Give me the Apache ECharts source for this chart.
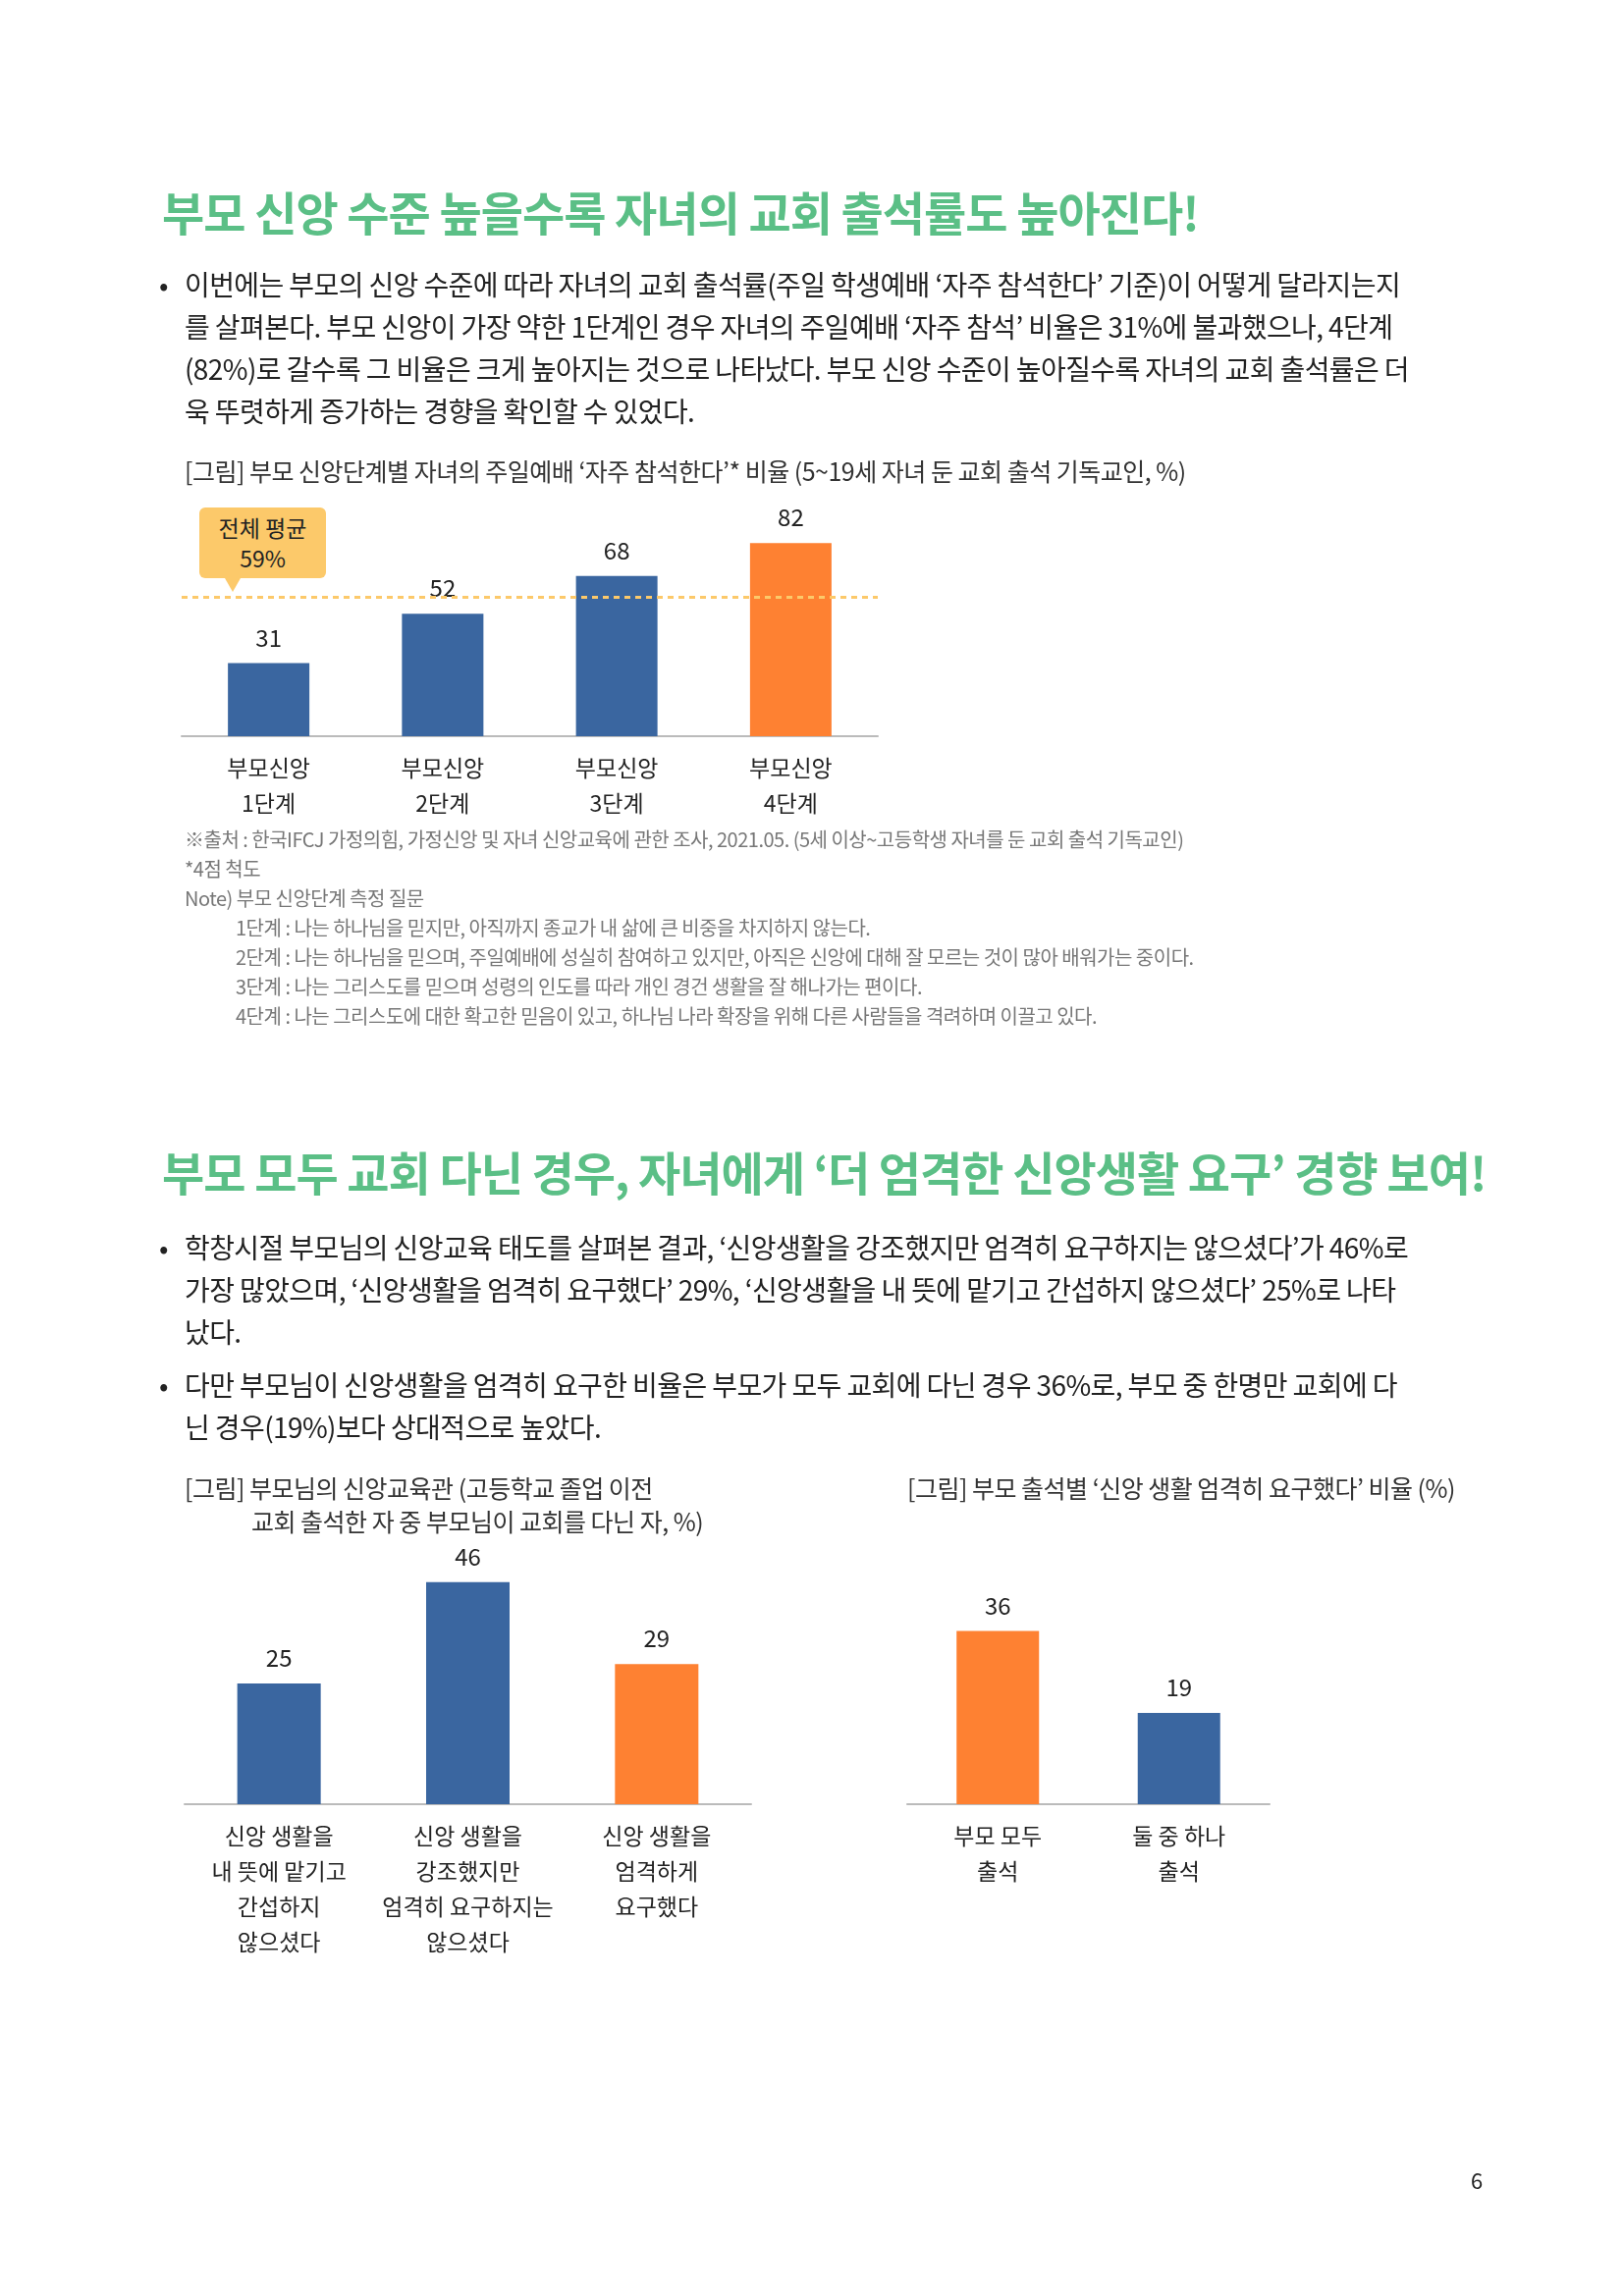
<!DOCTYPE html>
<html><head><meta charset="utf-8">
<script src="https://cdn.jsdelivr.net/npm/echarts@6/dist/echarts.min.js"></script>
<style>
body{margin:0;background:#fff;font-family:"Noto Sans CJK KR","Noto Sans",sans-serif;}
#page{position:relative;width:1653px;height:2339px;overflow:hidden;}
#chart{position:absolute;left:0;top:0;width:1653px;height:2339px;}
.t{position:absolute;white-space:nowrap;color:#222;}
.h{font-size:47px;font-weight:700;color:#5bbf86;letter-spacing:-1px;}
.p{font-size:28px;line-height:43px;letter-spacing:-0.6px;}
.cap{font-size:25px;color:#333;letter-spacing:-0.5px;line-height:35px;}
.n{font-size:20px;color:#777;line-height:30px;letter-spacing:-0.5px;}
.dot{position:absolute;left:-26px;}
#callout{position:absolute;left:203px;top:517px;width:129px;height:72px;background:#fcc96a;border-radius:6px;text-align:center;font-size:23px;line-height:31px;padding-top:5px;box-sizing:border-box;color:#222;}
#callout:after{content:"";position:absolute;left:26px;top:72px;border-left:8px solid transparent;border-right:8px solid transparent;border-top:14px solid #fcc96a;}
</style></head><body>
<div id="page">
<div id="chart"></div>
<div class="t h" style="left:165px;top:180px;">부모 신앙 수준 높을수록 자녀의 교회 출석률도 높아진다!</div>
<div class="t p" style="left:188px;top:268px;"><span class="dot">•</span>이번에는 부모의 신앙 수준에 따라 자녀의 교회 출석률(주일 학생예배 ‘자주 참석한다’ 기준)이 어떻게 달라지는지<br>를 살펴본다. 부모 신앙이 가장 약한 1단계인 경우 자녀의 주일예배 ‘자주 참석’ 비율은 31%에 불과했으나, 4단계<br>(82%)로 갈수록 그 비율은 크게 높아지는 것으로 나타났다. 부모 신앙 수준이 높아질수록 자녀의 교회 출석률은 더<br>욱 뚜렷하게 증가하는 경향을 확인할 수 있었다.</div>
<div class="t cap" style="left:188px;top:462px;">[그림] 부모 신앙단계별 자녀의 주일예배 ‘자주 참석한다’* 비율 (5~19세 자녀 둔 교회 출석 기독교인, %)</div>
<div id="callout">전체 평균<br>59%</div>
<div class="t n" style="left:188px;top:840px;">※출처 : 한국IFCJ 가정의힘, 가정신앙 및 자녀 신앙교육에 관한 조사, 2021.05. (5세 이상~고등학생 자녀를 둔 교회 출석 기독교인)<br>*4점 척도<br>Note) 부모 신앙단계 측정 질문</div>
<div class="t n" style="left:240px;top:930px;">1단계 : 나는 하나님을 믿지만, 아직까지 종교가 내 삶에 큰 비중을 차지하지 않는다.<br>2단계 : 나는 하나님을 믿으며, 주일예배에 성실히 참여하고 있지만, 아직은 신앙에 대해 잘 모르는 것이 많아 배워가는 중이다.<br>3단계 : 나는 그리스도를 믿으며 성령의 인도를 따라 개인 경건 생활을 잘 해나가는 편이다.<br>4단계 : 나는 그리스도에 대한 확고한 믿음이 있고, 하나님 나라 확장을 위해 다른 사람들을 격려하며 이끌고 있다.</div>
<div class="t h" style="left:165px;top:1158px;">부모 모두 교회 다닌 경우, 자녀에게 ‘더 엄격한 신앙생활 요구’ 경향 보여!</div>
<div class="t p" style="left:188px;top:1249px;"><span class="dot">•</span>학창시절 부모님의 신앙교육 태도를 살펴본 결과, ‘신앙생활을 강조했지만 엄격히 요구하지는 않으셨다’가 46%로<br>가장 많았으며, ‘신앙생활을 엄격히 요구했다’ 29%, ‘신앙생활을 내 뜻에 맡기고 간섭하지 않으셨다’ 25%로 나타<br>났다.</div>
<div class="t p" style="left:188px;top:1389px;"><span class="dot">•</span>다만 부모님이 신앙생활을 엄격히 요구한 비율은 부모가 모두 교회에 다닌 경우 36%로, 부모 중 한명만 교회에 다<br>닌 경우(19%)보다 상대적으로 높았다.</div>
<div class="t cap" style="left:188px;top:1498px;">[그림] 부모님의 신앙교육관 (고등학교 졸업 이전</div>
<div class="t cap" style="left:256px;top:1532px;">교회 출석한 자 중 부모님이 교회를 다닌 자, %)</div>
<div class="t cap" style="left:924px;top:1498px;">[그림] 부모 출석별 ‘신앙 생활 엄격히 요구했다’ 비율 (%)</div>
<div class="t" style="left:1498px;top:2204px;font-size:22px;">6</div>
</div>
<script>
const cat1 = ['부모신앙\n1단계','부모신앙\n2단계','부모신앙\n3단계','부모신앙\n4단계'];
const val1 = [31,52,68,82];
const avg1 = 59;
const cat2 = ['신앙 생활을\n내 뜻에 맡기고\n간섭하지\n않으셨다','신앙 생활을\n강조했지만\n엄격히 요구하지는\n않으셨다','신앙 생활을\n엄격하게\n요구했다'];
const val2 = [25,46,29];
const cat3 = ['부모 모두\n출석','둘 중 하나\n출석'];
const val3 = [36,19];
const BLUE='#3a66a0', ORANGE='#fe8132';
const col1=[BLUE,BLUE,BLUE,ORANGE], col2=[BLUE,BLUE,ORANGE], col3=[ORANGE,BLUE];
const ch = echarts.init(document.getElementById('chart'));
const ff='"Noto Sans CJK KR", sans-serif';
function xa(i,data){return {type:'category',gridIndex:i,data:data,axisTick:{show:false},axisLine:{lineStyle:{color:'#bbb',width:2}},
  axisLabel:{fontSize:23,color:'#222',fontFamily:ff,lineHeight:36,margin:14,interval:0}};}
function ya(i){return {type:'value',gridIndex:i,min:0,max:100,show:false};}
function bs(i,data,cols,w){return {type:'bar',xAxisIndex:i,yAxisIndex:i,barWidth:w,
  data:data.map((v,k)=>({value:v,itemStyle:{color:cols[k]}})),
  label:{show:true,position:'top',fontSize:24,color:'#222',fontFamily:ff,distance:14},animation:false};}
const s1=bs(0,val1,col1,83);
s1.markLine={silent:true,symbol:'none',label:{show:false},lineStyle:{color:'#fcc96a',type:[6,5],width:3},data:[{yAxis:avg1}]};
ch.setOption({animation:false,
 grid:[{left:185,width:709,top:510,height:240},{left:188,width:577,top:1346,height:492},{left:924,width:369,top:1348,height:490}],
 xAxis:[xa(0,cat1),xa(1,cat2),xa(2,cat3)],
 yAxis:[ya(0),ya(1),ya(2)],
 series:[s1,bs(1,val2,col2,85),bs(2,val3,col3,84)]
});
</script>
</body></html>
